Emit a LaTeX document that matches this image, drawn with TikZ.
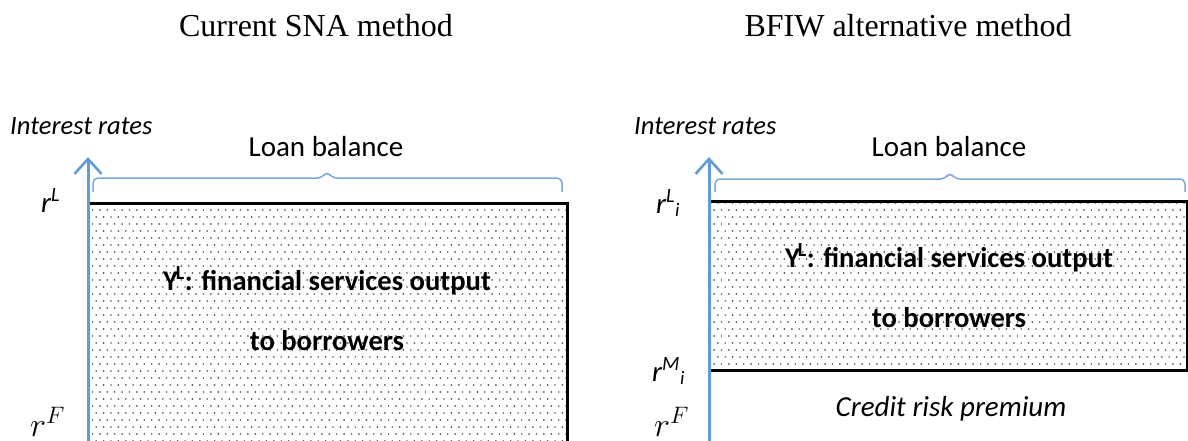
\RequirePackage{fix-cm}
\documentclass[tikz,border=0pt]{standalone}
\usepackage{fontspec}
\setmainfont{Liberation Serif}
\newfontfamily\carl{Carlito}
\usetikzlibrary{arrows.meta,patterns}
\definecolor{axisblue}{RGB}{98,156,214}
\definecolor{braceblue}{RGB}{125,168,220}
\definecolor{dotgray}{RGB}{90,90,90}
\pgfdeclarepatternformonly{sparsedots}{\pgfqpoint{-1pt}{-1pt}}{\pgfqpoint{8.4pt}{15pt}}{\pgfqpoint{7.4pt}{14pt}}{%
  \pgfpathcircle{\pgfqpoint{0pt}{0pt}}{0.95pt}%
  \pgfpathcircle{\pgfqpoint{3.7pt}{7pt}}{0.95pt}%
  \pgfusepath{fill}}
\begin{document}
\begin{tikzpicture}[x=1pt,y=-1pt,
  axisline/.style={draw=axisblue,line width=3pt,-{Straight Barb[length=15pt,width=27pt,line width=2.6pt]}},
  bracel/.style={draw=braceblue,line width=1.5pt,rounded corners=5pt},
  boxline/.style={draw=black,line width=3pt},
  dotfill/.style={pattern=sparsedots,pattern color=dotgray},
  titletext/.style={font=\fontsize{32}{38}\selectfont,inner sep=0pt,anchor=base},
  ylabel/.style={font=\carl\itshape\fontsize{26.5}{31}\selectfont,inner sep=0pt,anchor=base west},
  loantext/.style={font=\carl\fontsize{29}{34}\selectfont,inner sep=0pt,anchor=base},
  outtext/.style={font=\carl\bfseries\fontsize{28.6}{34}\selectfont,inner sep=0pt,anchor=base},
  ratelabel/.style={font=\carl\itshape\fontsize{29}{34}\selectfont,inner sep=0pt,anchor=base west},
  mathlabel/.style={font=\fontsize{34}{40}\selectfont,inner sep=0pt,anchor=base west},
  risktext/.style={font=\carl\itshape\fontsize{29}{34}\selectfont,inner sep=0pt,anchor=base}
]
\useasboundingbox (0,0) rectangle (1188,441);
\clip (0,0) rectangle (1188,441);
\fill[white] (0,0) rectangle (1188,441);

% ---------------- left panel ----------------
\node[titletext] (t1) at (316,37) {Current SNA method};
\node[ylabel] (ir1) at (10,135) {Interest rates};
\node[loantext] (lb1) at (326,156) {Loan balance};

\path[dotfill] (88,203) rectangle (567,445);
\coordinate (b1tl) at (88,203);
\coordinate (b1tr) at (567,203);
\coordinate (b1br) at (567,446);
\draw[boxline] (b1tl) -- (b1tr) -- (b1br);

\coordinate (a1b) at (88,446);
\coordinate (a1t) at (88,157);
\draw[axisline] (a1b) -- (a1t);

\coordinate (br1l) at (93,192);
\coordinate (br1r) at (562,192);
\draw[bracel] (br1l) -- (93,178) -- (322,178) -- (327,171) -- (332,178) -- (562,178) -- (br1r);

\node[outtext] (y1a) at (327,290) {Y\textsuperscript{\kern-0.1em L}: financial services output};
\node[outtext] (y1b) at (327,350) {to borrowers};

\node[ratelabel] (rl1) at (41,212) {r\textsuperscript{L}};
\node[mathlabel] (rf1) at (30,436) {$r^F$};

% ---------------- right panel ----------------
\node[titletext] (t2) at (908,37) {BFIW alternative method};
\node[ylabel] (ir2) at (634,135) {Interest rates};
\node[loantext] (lb2) at (949,156) {Loan balance};

\path[dotfill] (709,201) rectangle (1187,370);
\coordinate (b2tl) at (709,201);
\coordinate (b2tr) at (1187,201);
\coordinate (b2br) at (1187,370);
\coordinate (b2bl) at (709,370);
\draw[boxline] (b2bl) -- (b2br) -- (b2tr) -- (b2tl);

\coordinate (a2b) at (709,446);
\coordinate (a2t) at (709,157);
\draw[axisline] (a2b) -- (a2t);

\coordinate (br2l) at (715,192);
\coordinate (br2r) at (1185,192);
\draw[bracel] (br2l) -- (715,179) -- (945,179) -- (950,172) -- (955,179) -- (1185,179) -- (br2r);

\node[outtext] (y2a) at (949,267) {Y\textsuperscript{\kern-0.1em L}: financial services output};
\node[outtext] (y2b) at (949,327) {to borrowers};

\node[ratelabel] (rl2) at (656,213) {r\textsuperscript{L}\raisebox{-0.25ex}{\fontsize{19}{21}\selectfont i}};
\node[ratelabel] (rm2) at (652,381) {r\textsuperscript{M}\raisebox{-0.25ex}{\fontsize{19}{21}\selectfont i}};
\node[risktext] (crp) at (951,416) {Credit risk premium};
\node[mathlabel] (rf2) at (654,436) {$r^F$};
\end{tikzpicture}
\end{document}
